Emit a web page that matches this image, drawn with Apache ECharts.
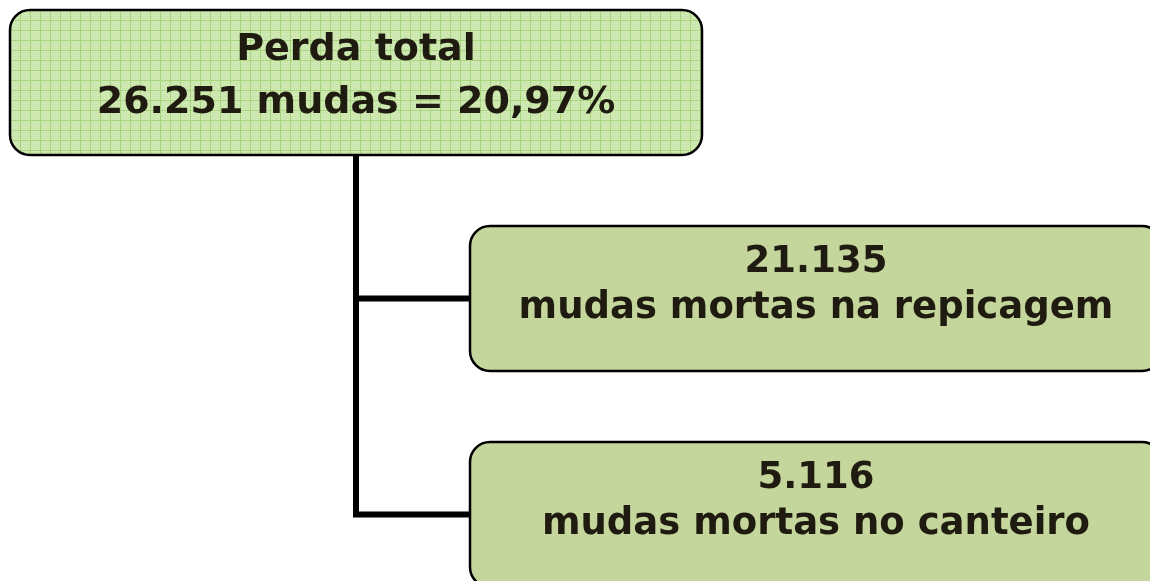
<!DOCTYPE html>
<html><head><meta charset="utf-8">
<script src="https://cdn.jsdelivr.net/npm/echarts@6/dist/echarts.min.js"></script>
<style>html,body{margin:0;padding:0;background:#fff}#c{width:1150px;height:581px}</style>
</head><body><div id="c"></div>
<script>
// ---- data ----
const nodeNames = ['Perda total', 'mudas mortas na repicagem', 'mudas mortas no canteiro'];
const nodeMudas = [26251, 21135, 5116];
const nodePercent = ['20,97%', null, null];
const nodeParent = [-1, 0, 0];

function fmt(n){ return String(n).replace(/\B(?=(\d{3})+(?!\d))/g, '.'); }

// derive tree level (depth) and row (order)
const depth = nodeParent.map(function(p, i){ let d = 0, k = i; while (nodeParent[k] >= 0) { d++; k = nodeParent[k]; } return d; });
const nodeData = nodeNames.map(function(n, i){
  const lines = depth[i] === 0
    ? [n, fmt(nodeMudas[i]) + ' mudas = ' + nodePercent[i]]
    : [fmt(nodeMudas[i]), n];
  return { value: [depth[i], i], lines: lines };
});
const edgeData = [];
nodeParent.forEach(function(p, i){ if (p >= 0) edgeData.push([depth[p], p, depth[i], i]); });

// ---- style ----
const BOX_W = 692, BOX_H = 145, R = 20;
const TXT = '#1f1b10';
const FONT0 = 'bold 38px "DejaVu Sans", Verdana, sans-serif';
const FONT1 = 'bold 37px "DejaVu Sans", Verdana, sans-serif';

function gridPattern(){
  const cv = document.createElement('canvas');
  cv.width = 10; cv.height = 10;
  const g = cv.getContext('2d');
  g.fillStyle = '#d0e9b5'; g.fillRect(0,0,10,10);
  g.fillStyle = '#c3e2a3';
  for (let y=0;y<10;y+=2) for (let x=(y/2)%2;x<10;x+=2) g.fillRect(x,y,1,1);
  g.fillStyle = '#a6d57b';
  g.fillRect(0,0,10,1); g.fillRect(0,0,1,10);
  return cv;
}
const pattern = { image: gridPattern(), repeat: 'repeat' };

const chart = echarts.init(document.getElementById('c'), null, {renderer:'canvas'});
chart.setOption({
  animation: false,
  grid: { left: 356, right: 334, top: 82.5, bottom: 66.5 },
  xAxis: { type: 'value', min: 0, max: 1, show: false },
  yAxis: { type: 'value', min: 0, max: 2, inverse: true, show: false },
  series: [
    {
      type: 'custom', clip: false, z: 1,
      data: edgeData,
      renderItem: function(params, api){
        const p = api.coord([api.value(0), api.value(1)]);
        const c = api.coord([api.value(2), api.value(3)]);
        return {
          type: 'polyline',
          shape: { points: [[p[0], p[1] + BOX_H/2], [p[0], c[1]], [c[0] - BOX_W/2, c[1]]] },
          style: { stroke: '#000', lineWidth: 6, fill: null, lineJoin: 'miter' }
        };
      }
    },
    {
      type: 'custom', clip: false, z: 2,
      data: nodeData,
      renderItem: function(params, api){
        const c = api.coord([api.value(0), api.value(1)]);
        const lvl = api.value(0);
        const item = nodeData[params.dataIndex];
        const x0 = c[0] - BOX_W/2, y0 = c[1] - BOX_H/2;
        const offs = lvl === 0 ? [-32, 20.5] : [-36, 10];
        const children = [{
          type: 'rect',
          shape: { x: x0, y: y0, width: BOX_W, height: BOX_H, r: R },
          style: { fill: lvl === 0 ? pattern : '#c4d69c', stroke: '#000', lineWidth: 2.5 }
        }];
        item.lines.forEach(function(t, k){
          children.push({
            type: 'text',
            style: { text: t, x: c[0], y: c[1] + offs[k], align: 'center', verticalAlign: 'middle', font: lvl === 0 ? FONT0 : FONT1, fill: TXT }
          });
        });
        return { type: 'group', children: children };
      }
    }
  ]
});
</script></body></html>
